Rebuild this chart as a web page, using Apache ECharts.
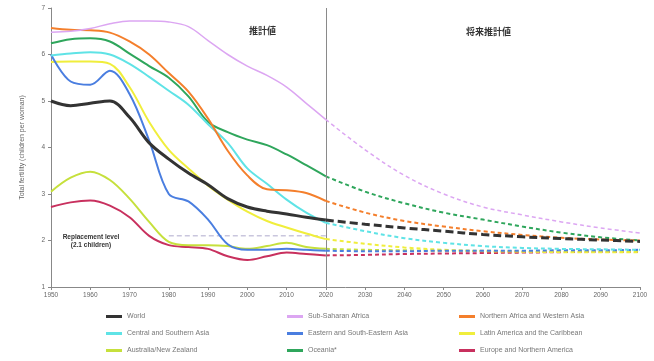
<!DOCTYPE html>
<html>
<head>
<meta charset="utf-8">
<script src="https://cdn.jsdelivr.net/npm/echarts@6/dist/echarts.min.js"></script>
<style>
  html, body { margin: 0; padding: 0; background: #fff; }
  #chart { width: 654px; height: 361px; }
</style>
</head>
<body>
<div id="chart"></div>
<script>
// 年份：推計値（5年ごと）と将来推計値（10年ごと）
const estYears = [1950, 1955, 1960, 1965, 1970, 1975, 1980, 1985, 1990, 1995, 2000, 2005, 2010, 2015, 2020]
const projYears = [2020, 2030, 2040, 2050, 2060, 2070, 2080, 2090, 2100]

// 地域名
const regions = [
    'World',
    'Sub-Saharan Africa',
    'Northern Africa and Western Asia',
    'Central and Southern Asia',
    'Eastern and South-Eastern Asia',
    'Latin America and the Caribbean',
    'Australia/New Zealand',
    'Oceania*',
    'Europe and Northern America'
]
const colors = ['#333333', '#dca6f2', '#f47f2c', '#5fe3e6', '#4a7ee0', '#f0ee3c', '#c6e03c', '#2fa65c', '#c8305e']
const widths = [3, 1.5, 2, 2, 2, 2, 2, 2, 2]

// 推計値
const worldEst = [5.0, 4.9, 4.95, 5.0, 4.65, 4.1, 3.75, 3.45, 3.2, 2.9, 2.72, 2.63, 2.57, 2.5, 2.44]
const ssaEst = [6.48, 6.5, 6.56, 6.66, 6.72, 6.72, 6.7, 6.6, 6.3, 6.0, 5.75, 5.55, 5.3, 4.95, 4.6]
const nawaEst = [6.57, 6.53, 6.52, 6.47, 6.28, 6.0, 5.6, 5.2, 4.62, 3.93, 3.4, 3.1, 3.08, 3.02, 2.85]
const csaEst = [5.98, 6.02, 6.05, 6.0, 5.8, 5.52, 5.22, 4.92, 4.5, 4.1, 3.55, 3.22, 2.88, 2.6, 2.38]
const eseaEst = [6.0, 5.42, 5.35, 5.65, 5.15, 4.15, 3.0, 2.84, 2.45, 1.92, 1.8, 1.8, 1.82, 1.8, 1.78]
const lacEst = [5.84, 5.85, 5.85, 5.8, 5.3, 4.55, 3.95, 3.55, 3.18, 2.88, 2.62, 2.42, 2.28, 2.15, 2.03]
const anzEst = [3.05, 3.35, 3.48, 3.3, 2.9, 2.4, 1.97, 1.9, 1.9, 1.88, 1.82, 1.88, 1.95, 1.86, 1.82]
const oceEst = [6.24, 6.33, 6.35, 6.28, 6.02, 5.75, 5.5, 5.1, 4.55, 4.33, 4.17, 4.05, 3.85, 3.62, 3.38]
const enaEst = [2.72, 2.82, 2.86, 2.75, 2.5, 2.1, 1.9, 1.86, 1.82, 1.66, 1.58, 1.66, 1.74, 1.71, 1.68]

// 将来推計値
const worldProj = [2.44, 2.35, 2.27, 2.2, 2.13, 2.08, 2.04, 2.01, 1.98]
const ssaProj = [4.6, 3.95, 3.4, 3.0, 2.72, 2.55, 2.4, 2.27, 2.16]
const nawaProj = [2.85, 2.6, 2.42, 2.3, 2.2, 2.12, 2.06, 2.02, 2.0]
const csaProj = [2.38, 2.2, 2.05, 1.95, 1.88, 1.84, 1.82, 1.81, 1.8]
const eseaProj = [1.78, 1.77, 1.77, 1.78, 1.78, 1.78, 1.79, 1.79, 1.8]
const lacProj = [2.03, 1.93, 1.85, 1.8, 1.77, 1.76, 1.75, 1.75, 1.75]
const anzProj = [1.82, 1.8, 1.79, 1.78, 1.78, 1.77, 1.77, 1.77, 1.77]
const oceProj = [3.38, 3.05, 2.8, 2.6, 2.45, 2.3, 2.17, 2.07, 2.0]
const enaProj = [1.68, 1.69, 1.71, 1.72, 1.73, 1.74, 1.75, 1.76, 1.76]

const estData = [worldEst, ssaEst, nawaEst, csaEst, eseaEst, lacEst, anzEst, oceEst, enaEst]
const projData = [worldProj, ssaProj, nawaProj, csaProj, eseaProj, lacProj, anzProj, oceProj, enaProj]

// 人口置換水準
const replacementYears = [1980, 2020]
const replacementLevel = 2.1

const zip = (xs, ys) => xs.map((x, i) => [x, ys[i]])

const chart = echarts.init(document.getElementById('chart'))

const series = []
regions.forEach((name, i) => {
    series.push({
        name: name,
        type: 'line',
        smooth: 0.35,
        symbol: 'none',
        z: 10 - i,
        itemStyle: { color: colors[i] },
        lineStyle: { color: colors[i], width: widths[i] },
        data: zip(estYears, estData[i])
    })
    series.push({
        name: name,
        type: 'line',
        smooth: 0.35,
        symbol: 'none',
        z: 10 - i,
        itemStyle: { color: colors[i] },
        lineStyle: { color: colors[i], width: widths[i], type: i === 0 ? [8, 4] : [4, 3] },
        data: zip(projYears, projData[i])
    })
})
// 置換水準の破線 + 2020年の区切り線
series.push({
    name: 'replacement',
    type: 'line',
    symbol: 'none',
    silent: true,
    z: 1,
    lineStyle: { color: '#c9c6dd', width: 1.5, type: [5, 3] },
    data: replacementYears.map(y => [y, replacementLevel]),
    markLine: {
        silent: true,
        symbol: 'none',
        label: { show: false },
        lineStyle: { color: '#8a8a8a', width: 1, type: 'solid' },
        data: [{ xAxis: 2020 }]
    }
})

const legendBase = {
    orient: 'vertical',
    top: 308,
    itemWidth: 16,
    itemHeight: 3,
    itemGap: 10,
    icon: 'rect',
    textStyle: { fontSize: 7, color: '#777', fontFamily: 'Liberation Sans' }
}

chart.setOption({
    animation: false,
    textStyle: { fontFamily: 'Liberation Sans' },
    grid: { left: 51, right: 14, top: 8, bottom: 74 },
    legend: [
        Object.assign({}, legendBase, { left: 101, data: [regions[0], regions[3], regions[6]] }),
        Object.assign({}, legendBase, { left: 282, data: [regions[1], regions[4], regions[7]] }),
        Object.assign({}, legendBase, { left: 454, data: [regions[2], regions[5], regions[8]] })
    ],
    xAxis: {
        type: 'value',
        min: 1950,
        max: 2100,
        interval: 10,
        axisLine: { lineStyle: { color: '#888' } },
        axisTick: { show: true, length: 3, lineStyle: { color: '#888' } },
        axisLabel: { fontSize: 6.5, color: '#666', margin: 5, formatter: v => String(v) },
        splitLine: { show: false }
    },
    yAxis: {
        type: 'value',
        min: 1,
        max: 7,
        interval: 1,
        name: 'Total fertility (children per woman)',
        nameLocation: 'middle',
        nameGap: 25,
        nameTextStyle: { fontSize: 7, color: '#666' },
        axisLine: { show: true, lineStyle: { color: '#888' } },
        axisTick: { show: true, length: 3, lineStyle: { color: '#888' } },
        axisLabel: { fontSize: 6.5, color: '#666', margin: 6 },
        splitLine: { show: false }
    },
    graphic: [
        {
            type: 'text', left: 249, top: 26,
            style: { text: '推計値', fontSize: 9, fontWeight: 'bold', fill: '#333', fontFamily: 'Noto Sans CJK JP' }
        },
        {
            type: 'text', left: 466, top: 27,
            style: { text: '将来推計値', fontSize: 9, fontWeight: 'bold', fill: '#333', fontFamily: 'Noto Sans CJK JP' }
        },
        {
            type: 'text', x: 91, y: 233,
            style: {
                text: 'Replacement level\n(2.1 children)', fontSize: 6.5, fontWeight: 'bold',
                fill: '#333', align: 'center', lineHeight: 8
            }
        }
    ],
    series: series
})
</script>
</body>
</html>
